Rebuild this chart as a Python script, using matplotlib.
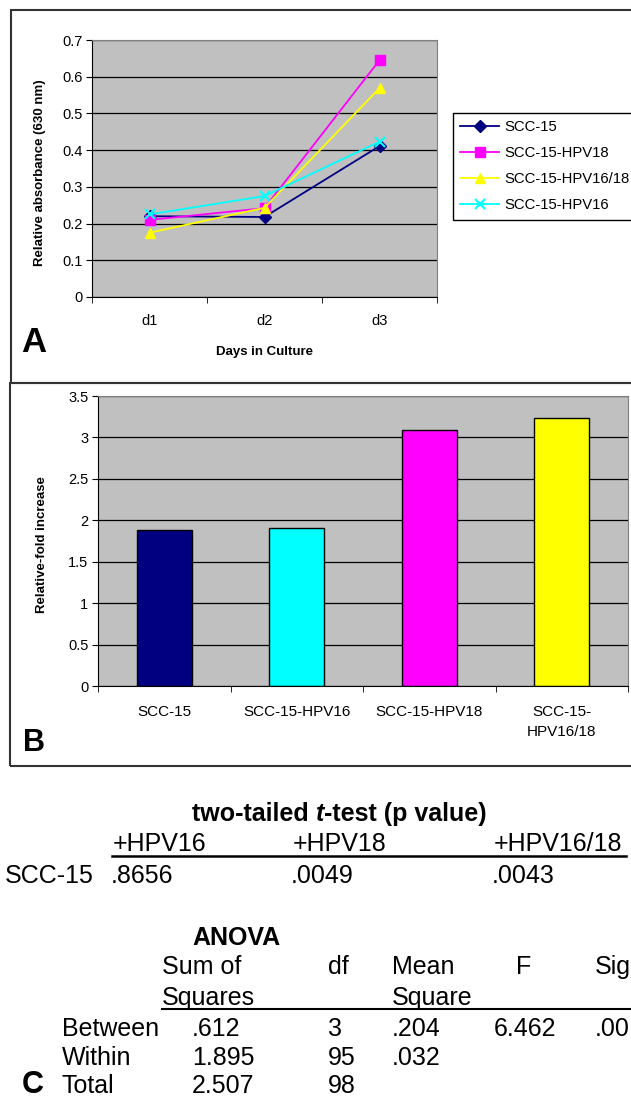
import matplotlib
matplotlib.use('Agg')
import matplotlib.pyplot as plt
from matplotlib.lines import Line2D
from matplotlib.patches import Rectangle

# panel A: absorbance over days
days = ['d1', 'd2', 'd3']
line_names = ['SCC-15', 'SCC-15-HPV18', 'SCC-15-HPV16/18', 'SCC-15-HPV16']
scc15 = [0.220, 0.218, 0.411]
hpv18 = [0.210, 0.242, 0.645]
hpv1618 = [0.175, 0.243, 0.569]
hpv16 = [0.225, 0.275, 0.423]
line_colors = ['#000080', '#FF00FF', '#FFFF00', '#00FFFF']
line_markers = ['D', 's', '^', 'x']

# panel B: fold increase
bar_labels = ['SCC-15', 'SCC-15-HPV16', 'SCC-15-HPV18', 'SCC-15-\nHPV16/18']
bar_values = [1.885, 1.905, 3.089, 3.234]
bar_colors = ['#000080', '#00FFFF', '#FF00FF', '#FFFF00']

# panel C: tables
ttest_cols = ['+HPV16', '+HPV18', '+HPV16/18']
ttest_vals = ['.8656', '.0049', '.0043']
anova_rows = ['Between', 'Within', 'Total']
anova_ss = ['.612', '1.895', '2.507']
anova_df = ['3', '95', '98']
anova_ms = ['.204', '.032', '']
anova_f = ['6.462', '', '']
anova_sig = ['.00', '', '']

W, H = 631, 1099
plt.rcParams['font.family'] = ['Liberation Sans', 'DejaVu Sans']
fig = plt.figure(figsize=(W / 100, H / 100), dpi=100)
fig.patch.set_facecolor('white')


def fx(px):
    return px / W


def fy(py):
    return 1 - py / H


def axes_px(left, top, right, bottom):
    return fig.add_axes([fx(left), fy(bottom), (right - left) / W, (bottom - top) / H])


def style_axes(ax):
    ax.set_facecolor('#C0C0C0')
    ax.set_axisbelow(True)
    ax.grid(axis='y', color='black', lw=0.9)
    for s in ['top', 'right']:
        ax.spines[s].set_color('#808080')
    for s in ['left', 'bottom']:
        ax.spines[s].set_color('black')
    ax.tick_params(axis='y', direction='out', length=4, labelsize=10.5, pad=3)
    ax.tick_params(axis='x', which='major', length=0, labelsize=10.5, pad=12)
    ax.tick_params(axis='x', which='minor', direction='out', length=4)


# frames round A and B
fig.add_artist(Rectangle((fx(11), fy(383)), fx(640) - fx(11), fy(10) - fy(383),
                         transform=fig.transFigure, fill=False, ec='#333333', lw=1.5))
fig.add_artist(Rectangle((fx(10), fy(766)), fx(640) - fx(10), fy(383) - fy(766),
                         transform=fig.transFigure, fill=False, ec='#333333', lw=1.5))

# ---- A ----
axA = axes_px(92, 40, 437, 297)
style_axes(axA)
xs = range(len(days))
for vals, name, c, m in zip([scc15, hpv18, hpv1618, hpv16], line_names, line_colors, line_markers):
    axA.plot(xs, vals, color=c, marker=m, lw=1.3, ms=7 if m != 'D' else 6,
             mew=1.5 if m == 'x' else 1, label=name)
axA.set_xlim(-0.5, 2.5)
axA.set_ylim(0, 0.7)
axA.set_yticks([i / 10 for i in range(8)])
axA.set_yticklabels(['0'] + ['%.1f' % (i / 10) for i in range(1, 8)])
axA.set_xticks(list(xs))
axA.set_xticklabels(days)
axA.set_xticks([-0.5, 0.5, 1.5, 2.5], minor=True)

leg = fig.legend(*axA.get_legend_handles_labels(), loc='upper left',
                 bbox_to_anchor=(fx(453), fy(113)), bbox_transform=fig.transFigure,
                 fancybox=False, edgecolor='black', framealpha=1, fontsize=10.7,
                 handlelength=2.6, handletextpad=0.35, labelspacing=0.8,
                 borderpad=0.5, borderaxespad=0)
leg.get_frame().set_linewidth(1)

fig.text(fx(40), fy(173), 'Relative absorbance (630 nm)', rotation=90, ha='center',
         va='center', fontsize=9.5, fontweight='bold')
fig.text(fx(265), fy(352), 'Days in Culture', ha='center', va='center',
         fontsize=9.5, fontweight='bold')
fig.text(fx(21), fy(343), 'A', ha='left', va='center', fontsize=25, fontweight='bold')

# ---- B ----
axB = axes_px(98, 396, 628, 686)
style_axes(axB)
bx = range(len(bar_labels))
axB.bar(bx, bar_values, width=0.415, color=bar_colors, edgecolor='black', lw=1)
axB.set_xlim(-0.5, 3.5)
axB.set_ylim(0, 3.5)
axB.set_yticks([i / 2 for i in range(8)])
axB.set_yticklabels(['0', '0.5', '1', '1.5', '2', '2.5', '3', '3.5'])
axB.set_xticks(list(bx))
axB.set_xticklabels(bar_labels, fontsize=11, va='top', linespacing=1.5)
axB.set_xticks([-0.5, 0.5, 1.5, 2.5, 3.5], minor=True)
axB.tick_params(axis='x', which='major', pad=14)

fig.text(fx(42), fy(545), 'Relative-fold increase', rotation=90, ha='center',
         va='center', fontsize=9.5, fontweight='bold')
fig.text(fx(23), fy(743), 'B', ha='left', va='center', fontsize=22, fontweight='bold')

# ---- C ----
tsz = 18
renderer = fig.canvas.get_renderer()
x0 = fx(192)
for part, style in [('two-tailed ', 'normal'), ('t', 'italic'), ('-test (p value)', 'normal')]:
    t = fig.text(x0, fy(821), part, ha='left', va='baseline', fontsize=tsz,
                 fontweight='bold', fontstyle=style)
    bb = t.get_window_extent(renderer)
    x0 = fx(bb.x1)

col_x = [113, 293, 494]
for xp, lab, val in zip(col_x, ttest_cols, ttest_vals):
    fig.text(fx(xp), fy(851), lab, ha='left', va='baseline', fontsize=tsz)
    fig.text(fx(xp - 2), fy(883), val, ha='left', va='baseline', fontsize=tsz)
fig.text(fx(5), fy(883), 'SCC-15', ha='left', va='baseline', fontsize=tsz)
fig.add_artist(Line2D([fx(112), fx(626)], [fy(856), fy(856)], transform=fig.transFigure,
                      color='black', lw=1.8))

fig.text(fx(192), fy(945), 'ANOVA', ha='left', va='baseline', fontsize=tsz, fontweight='bold')
fig.text(fx(162), fy(974), 'Sum of', ha='left', va='baseline', fontsize=tsz)
fig.text(fx(162), fy(1005), 'Squares', ha='left', va='baseline', fontsize=tsz)
fig.text(fx(328), fy(974), 'df', ha='left', va='baseline', fontsize=tsz)
fig.text(fx(392), fy(974), 'Mean', ha='left', va='baseline', fontsize=tsz)
fig.text(fx(392), fy(1005), 'Square', ha='left', va='baseline', fontsize=tsz)
fig.text(fx(516), fy(974), 'F', ha='left', va='baseline', fontsize=tsz)
fig.text(fx(595), fy(974), 'Sig', ha='left', va='baseline', fontsize=tsz)
fig.add_artist(Line2D([fx(162), fx(631)], [fy(1009), fy(1009)], transform=fig.transFigure,
                      color='black', lw=1.5))

row_y = [1036, 1065, 1093]
for yp, r, ss, df, ms, f, sig in zip(row_y, anova_rows, anova_ss, anova_df, anova_ms,
                                     anova_f, anova_sig):
    fig.text(fx(62), fy(yp), r, ha='left', va='baseline', fontsize=tsz)
    fig.text(fx(192), fy(yp), ss, ha='left', va='baseline', fontsize=tsz)
    fig.text(fx(328), fy(yp), df, ha='left', va='baseline', fontsize=tsz)
    fig.text(fx(392), fy(yp), ms, ha='left', va='baseline', fontsize=tsz)
    fig.text(fx(494), fy(yp), f, ha='left', va='baseline', fontsize=tsz)
    fig.text(fx(595), fy(yp), sig, ha='left', va='baseline', fontsize=tsz)
fig.text(fx(22), fy(1093), 'C', ha='left', va='baseline', fontsize=22, fontweight='bold')

fig.savefig('out.png', dpi=100)
